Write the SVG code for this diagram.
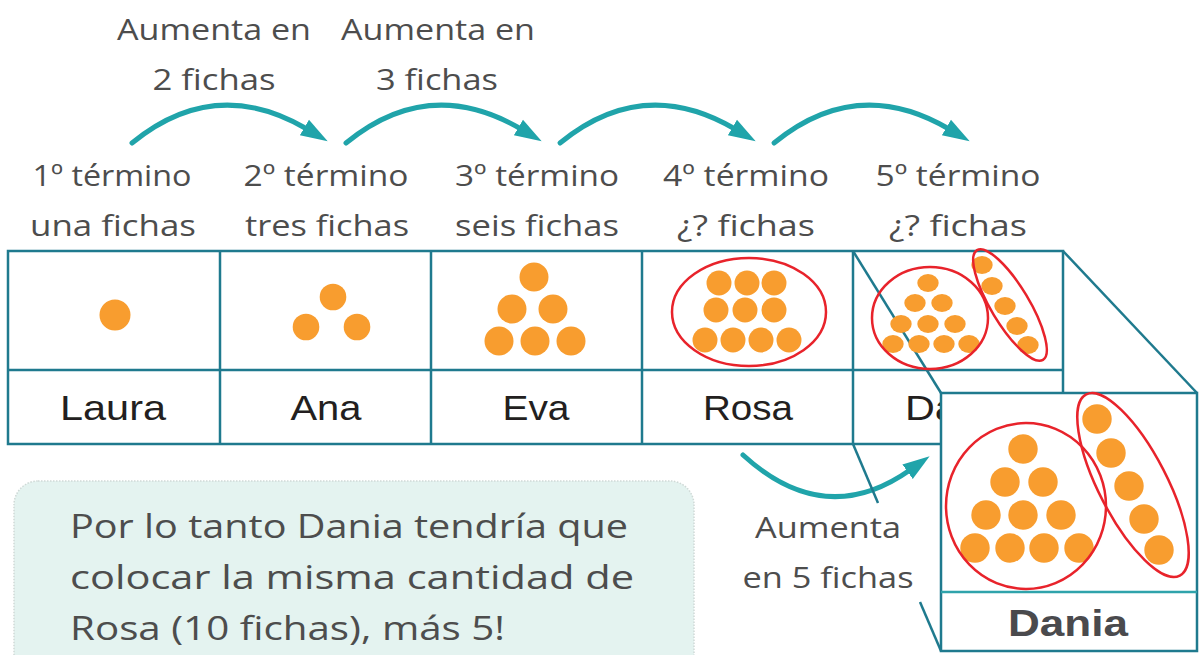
<svg xmlns="http://www.w3.org/2000/svg" width="1201" height="655" viewBox="0 0 1201 655">
<style>
.lbl{font-family:"Open Sans","DejaVu Sans",sans-serif;font-size:30px;fill:#4d4d4d;text-anchor:middle}
.name{font-family:"Liberation Sans","DejaVu Sans",sans-serif;font-size:35px;fill:#231f20;text-anchor:middle}
.note{font-family:"Open Sans","DejaVu Sans",sans-serif;font-size:32px;fill:#4d4d4d}
.grid{fill:none;stroke:#1f7a8e;stroke-width:2.5}
.dot{fill:#f89d2f}
.ring{fill:none;stroke:#e8232b;stroke-width:2.5}
.arc{fill:none;stroke:#20a4aa;stroke-width:5;stroke-linecap:round;marker-end:url(#ah)}
</style>
<defs>
<marker id="ah" markerUnits="userSpaceOnUse" markerWidth="32" markerHeight="24" viewBox="0 -12 32 24" refX="3" refY="0" orient="auto">
<path d="M0,-9 L27,0 L0,9 z" fill="#20a4aa"/>
</marker>
</defs>
<rect width="1201" height="655" fill="#ffffff"/>

<g id="top-labels">
<text class="lbl" x="214" y="40" textLength="194" lengthAdjust="spacingAndGlyphs">Aumenta en</text>
<text class="lbl" x="214" y="90" textLength="123" lengthAdjust="spacingAndGlyphs">2 fichas</text>
<text class="lbl" x="438" y="40" textLength="194" lengthAdjust="spacingAndGlyphs">Aumenta en</text>
<text class="lbl" x="437" y="90" textLength="122" lengthAdjust="spacingAndGlyphs">3 fichas</text>
</g>

<g id="term-labels">
<text class="lbl" x="112" y="186" textLength="159" lengthAdjust="spacingAndGlyphs">1º término</text>
<text class="lbl" x="113" y="236" textLength="166" lengthAdjust="spacingAndGlyphs">una fichas</text>
<text class="lbl" x="326" y="186" textLength="165" lengthAdjust="spacingAndGlyphs">2º término</text>
<text class="lbl" x="327" y="236" textLength="164" lengthAdjust="spacingAndGlyphs">tres fichas</text>
<text class="lbl" x="537" y="186" textLength="164" lengthAdjust="spacingAndGlyphs">3º término</text>
<text class="lbl" x="537" y="236" textLength="164" lengthAdjust="spacingAndGlyphs">seis fichas</text>
<text class="lbl" x="746" y="186" textLength="166" lengthAdjust="spacingAndGlyphs">4º término</text>
<text class="lbl" x="746" y="236" textLength="138" lengthAdjust="spacingAndGlyphs">¿? fichas</text>
<text class="lbl" x="958" y="186" textLength="165" lengthAdjust="spacingAndGlyphs">5º término</text>
<text class="lbl" x="958" y="236" textLength="138" lengthAdjust="spacingAndGlyphs">¿? fichas</text>
</g>

<g id="connectors">
<path class="arc" d="M132,143 Q215,75 307,129"/>
<path class="arc" d="M346,143 Q429,75 521,129"/>
<path class="arc" d="M560,143 Q643,75 735,129"/>
<path class="arc" d="M774,143 Q857,75 949,129"/>
<path class="arc" d="M743,455 Q825,530 910,470"/>
</g>

<g id="table">
<rect class="grid" x="8" y="251" width="1055" height="193"/>
<line class="grid" x1="8" y1="370" x2="1063" y2="370"/>
<line class="grid" x1="220" y1="251" x2="220" y2="444"/>
<line class="grid" x1="431" y1="251" x2="431" y2="444"/>
<line class="grid" x1="642" y1="251" x2="642" y2="444"/>
<line class="grid" x1="853" y1="251" x2="853" y2="444"/>
</g>

<g id="projection-lines">
<line class="grid" x1="853" y1="251" x2="941" y2="393"/>
<line class="grid" x1="1063" y1="251" x2="1197" y2="393"/>
<line class="grid" x1="853" y1="444" x2="878" y2="503"/>
<line class="grid" x1="920" y1="602" x2="941" y2="651"/>
</g>

<g id="laura">
<circle class="dot" cx="115" cy="315" r="15.5"/>
<text class="name" x="113" y="420" textLength="106" lengthAdjust="spacingAndGlyphs">Laura</text>
</g>

<g id="ana">
<circle class="dot" cx="333" cy="297" r="13.3"/>
<circle class="dot" cx="306" cy="327" r="13.3"/>
<circle class="dot" cx="357" cy="327" r="13.3"/>
<text class="name" x="326" y="420" textLength="71" lengthAdjust="spacingAndGlyphs">Ana</text>
</g>

<g id="eva">
<circle class="dot" cx="534" cy="277" r="14.5"/>
<circle class="dot" cx="512" cy="309" r="14.5"/>
<circle class="dot" cx="553" cy="309" r="14.5"/>
<circle class="dot" cx="499" cy="341" r="14.5"/>
<circle class="dot" cx="535" cy="341" r="14.5"/>
<circle class="dot" cx="571" cy="341" r="14.5"/>
<text class="name" x="536" y="420" textLength="67" lengthAdjust="spacingAndGlyphs">Eva</text>
</g>

<g id="rosa">
<circle class="dot" cx="719" cy="283" r="12.5"/>
<circle class="dot" cx="747" cy="283" r="12.5"/>
<circle class="dot" cx="774" cy="283" r="12.5"/>
<circle class="dot" cx="716" cy="310" r="12.5"/>
<circle class="dot" cx="745" cy="310" r="12.5"/>
<circle class="dot" cx="774" cy="310" r="12.5"/>
<circle class="dot" cx="705" cy="340" r="12.5"/>
<circle class="dot" cx="733" cy="340" r="12.5"/>
<circle class="dot" cx="761" cy="340" r="12.5"/>
<circle class="dot" cx="789" cy="340" r="12.5"/>
<ellipse class="ring" cx="749" cy="312" rx="77" ry="54"/>
<text class="name" x="748" y="420" textLength="90" lengthAdjust="spacingAndGlyphs">Rosa</text>
</g>

<g id="dania-cell">
<ellipse class="dot" cx="928" cy="283" rx="10.7" ry="9"/>
<ellipse class="dot" cx="915" cy="303" rx="10.7" ry="9"/>
<ellipse class="dot" cx="942" cy="303" rx="10.7" ry="9"/>
<ellipse class="dot" cx="901" cy="324" rx="10.7" ry="9"/>
<ellipse class="dot" cx="928" cy="324" rx="10.7" ry="9"/>
<ellipse class="dot" cx="955" cy="324" rx="10.7" ry="9"/>
<ellipse class="dot" cx="893" cy="344" rx="10.7" ry="9"/>
<ellipse class="dot" cx="919" cy="344" rx="10.7" ry="9"/>
<ellipse class="dot" cx="944" cy="344" rx="10.7" ry="9"/>
<ellipse class="dot" cx="969" cy="344" rx="10.7" ry="9"/>
<ellipse class="dot" cx="982" cy="265" rx="10.7" ry="9"/>
<ellipse class="dot" cx="992" cy="286" rx="10.7" ry="9"/>
<ellipse class="dot" cx="1005" cy="306" rx="10.7" ry="9"/>
<ellipse class="dot" cx="1017" cy="326" rx="10.7" ry="9"/>
<ellipse class="dot" cx="1028" cy="345" rx="10.7" ry="9"/>
<ellipse class="ring" cx="930" cy="318" rx="58" ry="51"/>
<ellipse class="ring" cx="1010" cy="305" rx="64" ry="19" transform="rotate(59 1010 305)"/>
<text class="name" x="959" y="420" textLength="108" lengthAdjust="spacingAndGlyphs">Dania</text>
</g>

<g id="note">
<rect x="14" y="481" width="680" height="200" rx="24" fill="#e4f3f0" stroke="#cfd9d6" stroke-width="1.5" stroke-dasharray="1.5 1.5"/>
<text class="note" x="70" y="538" textLength="558" lengthAdjust="spacingAndGlyphs">Por lo tanto Dania tendría que</text>
<text class="note" x="70" y="589" textLength="564" lengthAdjust="spacingAndGlyphs">colocar la misma cantidad de</text>
<text class="note" x="70" y="640" textLength="435" lengthAdjust="spacingAndGlyphs">Rosa (10 fichas), más 5!</text>
</g>

<g id="increase-label">
<text class="lbl" x="828" y="538" textLength="146" lengthAdjust="spacingAndGlyphs">Aumenta</text>
<text class="lbl" x="828" y="588" textLength="171" lengthAdjust="spacingAndGlyphs">en 5 fichas</text>
</g>

<g id="dania-zoom">
<rect x="941" y="393" width="256" height="258" fill="#ffffff" stroke="#1f7a8e" stroke-width="2.5"/>
<line x1="941" y1="592" x2="1197" y2="592" stroke="#2fa3ab" stroke-width="2.5"/>
<circle class="dot" cx="1023" cy="449" r="14.7"/>
<circle class="dot" cx="1005" cy="482" r="14.7"/>
<circle class="dot" cx="1043" cy="482" r="14.7"/>
<circle class="dot" cx="986" cy="515" r="14.7"/>
<circle class="dot" cx="1023" cy="515" r="14.7"/>
<circle class="dot" cx="1061" cy="515" r="14.7"/>
<circle class="dot" cx="975" cy="548" r="14.7"/>
<circle class="dot" cx="1010" cy="548" r="14.7"/>
<circle class="dot" cx="1044" cy="548" r="14.7"/>
<circle class="dot" cx="1079" cy="548" r="14.7"/>
<circle class="dot" cx="1097" cy="419" r="14.7"/>
<circle class="dot" cx="1111" cy="453" r="14.7"/>
<circle class="dot" cx="1129" cy="486" r="14.7"/>
<circle class="dot" cx="1144" cy="519" r="14.7"/>
<circle class="dot" cx="1159" cy="550" r="14.7"/>
<ellipse class="ring" cx="1026" cy="506" rx="80" ry="83"/>
<ellipse class="ring" cx="1133" cy="485" rx="102" ry="34" transform="rotate(62.7 1133 485)"/>
<text x="1068" y="636" text-anchor="middle" font-family="Liberation Sans, DejaVu Sans, sans-serif" font-weight="bold" font-size="36" fill="#4a4a4d" textLength="120" lengthAdjust="spacingAndGlyphs">Dania</text>
</g>
</svg>
